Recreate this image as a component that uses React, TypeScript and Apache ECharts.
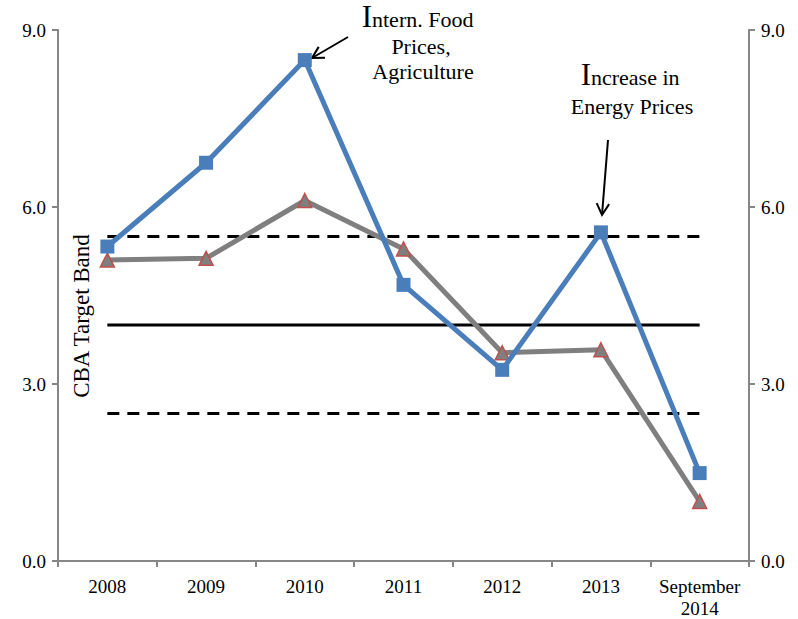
import React, { useEffect, useRef } from "react";
import * as echarts from "echarts";

const categories = ["2008", "2009", "2010", "2011", "2012", "2013", "September\n2014"];
const inflationA = [5.33, 6.75, 8.49, 4.68, 3.24, 5.57, 1.49];
const inflationB = [5.1, 5.13, 6.11, 5.29, 3.53, 3.58, 1.01];
const bandUpper = [5.5, 5.5, 5.5, 5.5, 5.5, 5.5, 5.5];
const bandTarget = [4, 4, 4, 4, 4, 4, 4];
const bandLower = [2.5, 2.5, 2.5, 2.5, 2.5, 2.5, 2.5];

const FONT = "'Liberation Serif', serif";

export default function App() {
  const ref = useRef<HTMLDivElement>(null);
  useEffect(() => {
    if (!ref.current) return;
    const chart = echarts.init(ref.current, undefined, { renderer: "svg" });
    const axisLine = { show: true, lineStyle: { color: "#868686", width: 2 } };
    const yAxisCommon = {
      type: "value" as const,
      min: 0,
      max: 9,
      interval: 3,
      axisLine,
      axisTick: { show: true, length: 6, lineStyle: { color: "#868686", width: 2 } },
      splitLine: { show: false },
      axisLabel: {
        formatter: (v: number) => v.toFixed(1),
        fontFamily: FONT,
        fontSize: 19,
        color: "#000",
        margin: 12,
      },
    };
    const bandLine = (data: number[], type: "solid" | "dashed") => ({
      type: "line" as const,
      data,
      symbol: "none",
      z: 1,
      lineStyle: { color: "#000", width: 3, type: type === "dashed" ? [12, 8] : "solid" },
    });
    const arrow = (x1: number, y1: number, x2: number, y2: number) => {
      const ang = Math.atan2(y2 - y1, x2 - x1);
      const L = 13;
      const a = 0.5;
      return [
        { type: "line", shape: { x1, y1, x2, y2 }, style: { stroke: "#000", lineWidth: 2 } },
        {
          type: "polyline",
          shape: {
            points: [
              [x2 - L * Math.cos(ang - a), y2 - L * Math.sin(ang - a)],
              [x2, y2],
              [x2 - L * Math.cos(ang + a), y2 - L * Math.sin(ang + a)],
            ],
          },
          style: { stroke: "#000", lineWidth: 2, fill: "none" },
        },
      ];
    };
    const txt = (x: number, y: number, text: string, align: string, size = 22) => ({
      type: "text",
      x,
      y,
      style: {
        text,
        fontFamily: FONT,
        fontSize: size,
        fill: "#000",
        align,
        verticalAlign: "middle",
      },
    });
    chart.setOption({
      animation: false,
      grid: { left: 58, right: 49, top: 30, bottom: 56, containLabel: false },
      xAxis: {
        type: "category",
        data: categories,
        boundaryGap: true,
        axisLine,
        axisTick: { show: true, length: 6, lineStyle: { color: "#868686", width: 2 } },
        axisLabel: {
          fontFamily: FONT,
          fontSize: 19,
          color: "#000",
          margin: 14,
          lineHeight: 22,
          interval: 0,
        },
      },
      yAxis: [
        { ...yAxisCommon, position: "left" },
        { ...yAxisCommon, position: "right" },
      ],
      series: [
        bandLine(bandUpper, "dashed"),
        bandLine(bandTarget, "solid"),
        bandLine(bandLower, "dashed"),
        {
          type: "line",
          data: inflationB,
          symbol: "triangle",
          symbolSize: 14,
          z: 3,
          lineStyle: { color: "#7F7F7F", width: 5 },
          itemStyle: { color: "#7F7F7F", borderColor: "#C0504D", borderWidth: 1.5 },
        },
        {
          type: "line",
          data: inflationA,
          symbol: "rect",
          symbolSize: 14,
          z: 4,
          lineStyle: { color: "#4A7EBB", width: 5 },
          itemStyle: { color: "#4A7EBB" },
        },
      ],
      graphic: [
        {
          type: "text",
          x: 81,
          y: 316,
          rotation: Math.PI / 2,
          style: {
            text: "CBA Target Band",
            fontFamily: FONT,
            fontSize: 23,
            fill: "#000",
            align: "center",
            verticalAlign: "middle",
          },
        },
        txt(372, 16, "I", "right", 31),
        txt(372, 19, "ntern. Food", "left"),
        txt(421, 46, "Prices,", "center"),
        txt(423, 71, "Agriculture", "center"),
        txt(591, 74, "I", "right", 31),
        txt(591, 77, "ncrease in", "left"),
        txt(632, 106, "Energy Prices", "center"),
        ...arrow(348, 37, 312, 58),
        ...arrow(608, 140, 602, 215),
      ],
    });
    return () => chart.dispose();
  }, []);
  return <div ref={ref} style={{ width: 798, height: 619, position: "absolute", left: 0, top: 0 }} />;
}
